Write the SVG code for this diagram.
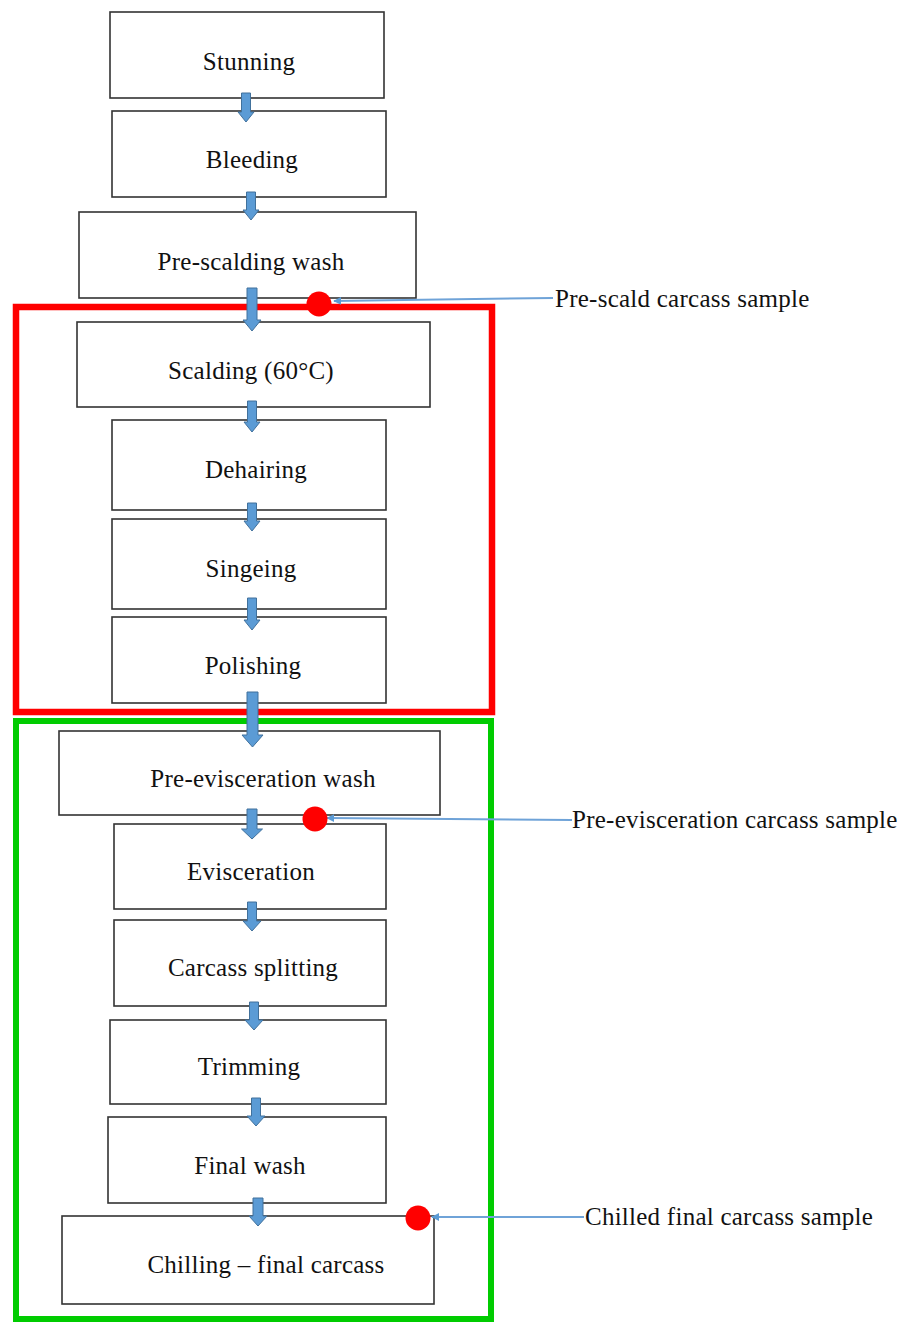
<svg xmlns="http://www.w3.org/2000/svg" width="907" height="1331" viewBox="0 0 907 1331">
<style>
.box{fill:#fff;stroke:#333;stroke-width:1.6}
.t{font-family:"Liberation Serif","Times New Roman",serif;font-size:25px;letter-spacing:0.25px;fill:#111;text-anchor:middle}
.lbl{font-family:"Liberation Serif","Times New Roman",serif;font-size:25px;letter-spacing:0.25px;fill:#111}
.blk{fill:#5b9bd5;stroke:#41719c;stroke-width:1}
.thin{stroke:#6fa3d8;stroke-width:2;fill:none;marker-end:url(#ah)}
.dot{fill:#ff0000}
</style>
<defs>
<marker id="ah" viewBox="0 0 10 10" refX="9" refY="5" markerWidth="8" markerHeight="8" markerUnits="userSpaceOnUse" orient="auto">
<path d="M0,0 L10,5 L0,10 z" fill="#5b9bd5"/>
</marker>
</defs>
<rect width="907" height="1331" fill="#fff"/>
<g id="groups">
<rect x="16" y="307" width="476" height="405" fill="none" stroke="#ff0000" stroke-width="6.5"/>
<rect x="16" y="721" width="475" height="598" fill="none" stroke="#00cc00" stroke-width="6"/>
</g>
<g id="n1"><rect class="box" x="110" y="12" width="274" height="86"/><text class="t" x="249" y="70">Stunning</text></g>
<g id="n2"><rect class="box" x="112" y="111" width="274" height="86"/><text class="t" x="252" y="168">Bleeding</text></g>
<g id="n3"><rect class="box" x="79" y="212" width="337" height="86"/><text class="t" x="251" y="270">Pre-scalding wash</text></g>
<g id="n4"><rect class="box" x="77" y="322" width="353" height="85"/><text class="t" x="251" y="379">Scalding (60°C)</text></g>
<g id="n5"><rect class="box" x="112" y="420" width="274" height="90"/><text class="t" x="256" y="478">Dehairing</text></g>
<g id="n6"><rect class="box" x="112" y="519" width="274" height="90"/><text class="t" x="251" y="577">Singeing</text></g>
<g id="n7"><rect class="box" x="112" y="617" width="274" height="86"/><text class="t" x="253" y="674">Polishing</text></g>
<g id="n8"><rect class="box" x="59" y="731" width="381" height="84"/><text class="t" x="263" y="787">Pre-evisceration wash</text></g>
<g id="n9"><rect class="box" x="114" y="824" width="272" height="85"/><text class="t" x="251" y="880">Evisceration</text></g>
<g id="n10"><rect class="box" x="114" y="920" width="272" height="86"/><text class="t" x="253" y="976">Carcass splitting</text></g>
<g id="n11"><rect class="box" x="110" y="1020" width="276" height="84"/><text class="t" x="249" y="1075">Trimming</text></g>
<g id="n12"><rect class="box" x="108" y="1117" width="278" height="86"/><text class="t" x="250" y="1174">Final wash</text></g>
<g id="n13"><rect class="box" x="62" y="1216" width="372" height="88"/><text class="t" x="266" y="1273">Chilling – final carcass</text></g>
<g id="connectors">
<polygon class="blk" points="241.5,93 250.5,93 250.5,112 254,112 246,122 238,112 241.5,112"/>
<polygon class="blk" points="246.5,192 255.5,192 255.5,210 259,210 251,220 243,210 246.5,210"/>
<polygon class="blk" points="247,288 257,288 257,320 261,320 252,331 243,320 247,320"/>
<polygon class="blk" points="247.5,401 256.5,401 256.5,422 260,422 252,432 244,422 247.5,422"/>
<polygon class="blk" points="247.5,503 256.5,503 256.5,521 260,521 252,531 244,521 247.5,521"/>
<polygon class="blk" points="247.5,598 256.5,598 256.5,620 260,620 252,630 244,620 247.5,620"/>
<polygon class="blk" points="247,692 258,692 258,735 263,735 252.5,747 242,735 247,735"/>
<polygon class="blk" points="247,809 257,809 257,829 262.5,829 252,839 241.5,829 247,829"/>
<polygon class="blk" points="247.5,902 256.5,902 256.5,921 261,921 252,931 243,921 247.5,921"/>
<polygon class="blk" points="249.5,1002 258.5,1002 258.5,1020 263,1020 254,1030 245,1020 249.5,1020"/>
<polygon class="blk" points="251.5,1098 260.5,1098 260.5,1116 265,1116 256,1126 247,1116 251.5,1116"/>
<polygon class="blk" points="253,1198 263,1198 263,1216 267,1216 258,1226 249,1216 253,1216"/>
<line class="thin" x1="553" y1="298" x2="334" y2="301"/>
<line class="thin" x1="572" y1="820" x2="327" y2="818"/>
<line class="thin" x1="584" y1="1217" x2="432" y2="1217"/>
</g>
<g id="samples">
<circle class="dot" cx="319" cy="304" r="12.5"/>
<circle class="dot" cx="315" cy="819" r="12.5"/>
<circle class="dot" cx="418" cy="1218" r="12.5"/>
<text class="lbl" x="555" y="307">Pre-scald carcass sample</text>
<text class="lbl" x="572" y="828">Pre-evisceration carcass sample</text>
<text class="lbl" x="585" y="1225">Chilled final carcass sample</text>
</g>
</svg>
